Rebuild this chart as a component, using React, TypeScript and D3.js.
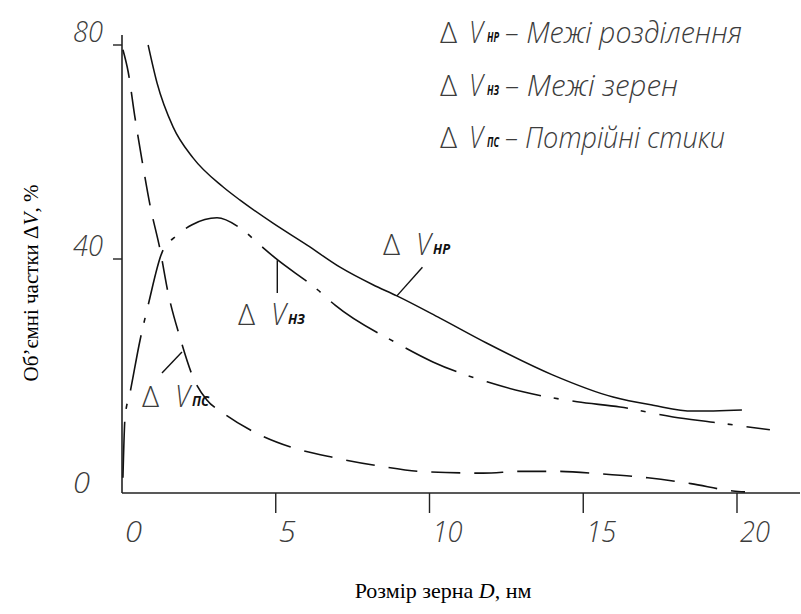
import React from "react";
import * as d3 from "d3";

// grain size D, nm and volume fraction, %
const nrD = [0.85, 1.14, 1.66, 2.31, 3.28, 3.84, 4.91, 6.02, 7.09, 8.16, 8.94, 10.34, 11.87, 14.0, 15.97, 17.27, 18.57, 20.16];
const nrV = [80, 72.9, 64.7, 58.9, 53.5, 51.0, 46.7, 42.6, 38.6, 35.6, 33.7, 29.9, 25.6, 20.2, 16.4, 15.0, 14.0, 14.2];

const nzD = [0.03, 0.1, 0.26, 0.59, 0.85, 1.3, 1.76, 2.28, 3.09, 3.84, 4.49, 4.98, 6.37, 6.93, 8.94, 10.11, 11.87, 13.04, 14.8, 16.2, 17.92, 19.22, 21.07];
const nzV = [2.6, 13, 17.1, 26.2, 32.1, 41.2, 44.3, 46.4, 47.7, 45.8, 42.6, 40.2, 34.7, 32.1, 25.6, 22.4, 19, 17.3, 15.6, 14.7, 13, 12.1, 10.8];

const pcD = [0.03, 0.2, 0.42, 0.65, 0.91, 1.24, 1.5, 1.89, 2.31, 2.76, 3.28, 4.16, 5.46, 6.93, 8.39, 9.69, 11.74, 13.0, 14.18, 15.64, 17.1, 18.5, 19.87, 20.26];
const pcV = [79.1, 75, 66.5, 58.5, 50.1, 41.7, 34.2, 26.5, 19.8, 15.9, 13.7, 10.8, 7.9, 6, 4.6, 3.7, 3.4, 3.7, 3.7, 3.25, 2.6, 1.6, 0.35, 0.2];

const xTicks = [0, 5, 10, 15, 20];
const yTicks = [0, 40, 80];

const seriesSubs = ["нр", "нз", "пс"];
const legendNames = ["Межі розділення", "Межі зерен", "Потрійні стики"];

// curve labels: [D, V] of label, leader from / to
const labelAt = [[8.49, 40.7], [3.77, 28.7], [0.65, 14.7]];
const leaders = [
  [[8.94, 33.7], [9.77, 38.6]],
  [[5.05, 39.8], [5.05, 34.2]],
  [[1.3, 20.5], [1.95, 24.1]],
];

const gost = {
  fontFamily: "'Open Sans', 'DejaVu Sans', sans-serif",
  fontStyle: "italic",
  fontWeight: 300,
  fill: "#3c3c3c",
} as const;

const serif = { fontFamily: "'Liberation Serif', 'Times New Roman', serif", fill: "#000" };

export default function App() {
  const x = d3.scaleLinear().domain([0, 20]).range([122, 737]);
  // hand drawn axis: spacing is not even
  const y = d3.scaleLinear().domain([0, 40, 80]).range([493, 259, 45]);

  const line = d3
    .line<[number, number]>()
    .x((d) => x(d[0]))
    .y((d) => y(d[1]))
    .curve(d3.curveMonotoneX);

  const series = [
    { pts: nrD.map((d, i) => [d, nrV[i]] as [number, number]), dash: "none", w: 1.5 },
    { pts: nzD.map((d, i) => [d, nzV[i]] as [number, number]), dash: "56 13 5 14", w: 1.6 },
    { pts: pcD.map((d, i) => [d, pcV[i]] as [number, number]), dash: "29 14", w: 1.6 },
  ];

  return (
    <svg width={801} height={614} style={{ position: "absolute", left: 0, top: 0, background: "#fff" }}>
      {/* axes */}
      <line x1={x(0)} x2={800} y1={y(0)} y2={y(0)} stroke="#222" strokeWidth={1.6} />
      <line x1={x(0)} x2={x(0)} y1={35} y2={y(0)} stroke="#222" strokeWidth={1.6} />
      {xTicks.filter((t) => t > 0).map((t) => (
        <line key={"xt" + t} x1={x(t)} x2={x(t)} y1={y(0)} y2={y(0) + 20} stroke="#222" strokeWidth={1.4} />
      ))}
      {yTicks.filter((t) => t > 0).map((t) => (
        <line key={"yt" + t} x1={x(0) - 9} x2={x(0)} y1={y(t)} y2={y(t)} stroke="#222" strokeWidth={1.4} />
      ))}
      {xTicks.map((t) => (
        <text key={"xl" + t} x={x(t) + 3} y={y(0) + 49} fontSize={30} style={gost}
          textLength={String(t).length * 13 + 4} lengthAdjust="spacingAndGlyphs">
          {t}
        </text>
      ))}
      {yTicks.map((t) => (
        <text key={"yl" + t} x={x(0) - 49} y={y(t) - (t === 0 ? 0 : 3)} fontSize={30} style={gost}
          textLength={String(t).length * 13 + 4} lengthAdjust="spacingAndGlyphs">
          {t}
        </text>
      ))}

      {/* curves */}
      {series.map((s, i) => (
        <path key={"s" + i} d={line(s.pts) || ""} fill="none" stroke="#111" strokeWidth={s.w}
          strokeDasharray={s.dash} />
      ))}

      {/* leaders and curve labels */}
      {leaders.map((l, i) => (
        <line key={"ld" + i} x1={x(l[0][0])} y1={y(l[0][1])} x2={x(l[1][0])} y2={y(l[1][1])}
          stroke="#111" strokeWidth={1.4} />
      ))}
      {labelAt.map((p, i) => (
        <g key={"lb" + i} transform={`translate(${x(p[0])},${y(p[1])})`}>
          <text x={0} y={0} fontSize={30} style={{ ...gost, fontStyle: "normal" }}>Δ</text>
          <text x={33} y={0} fontSize={32} style={gost} textLength={15} lengthAdjust="spacingAndGlyphs">V</text>
          <text x={50} y={-1} fontSize={15} style={{ ...gost, fontWeight: 700, fill: "#111" }}
            textLength={17} lengthAdjust="spacingAndGlyphs">{seriesSubs[i].toUpperCase()}</text>
        </g>
      ))}

      {/* legend */}
      {legendNames.map((name, i) => (
        <g key={"lg" + i} transform={`translate(440,${43 + i * 52.5})`}>
          <text x={0} y={0} fontSize={30} style={{ ...gost, fontStyle: "normal" }}>Δ</text>
          <text x={29} y={0} fontSize={32} style={gost} textLength={14} lengthAdjust="spacingAndGlyphs">V</text>
          <text x={47} y={-1} fontSize={15} style={{ ...gost, fontWeight: 700, fill: "#111" }}
            textLength={12} lengthAdjust="spacingAndGlyphs">{seriesSubs[i].toUpperCase()}</text>
          <text x={i === 0 ? 65 : 65} y={0} fontSize={30} style={gost}
            textLength={[237, 173, 220][i]} lengthAdjust="spacingAndGlyphs">
            {"– " + name}
          </text>
        </g>
      ))}

      {/* axis titles */}
      <text x={443} y={598} textAnchor="middle" fontSize={22} style={serif}>
        Розмір зерна <tspan fontStyle="italic">D</tspan>, нм
      </text>
      <text transform="translate(38,283) rotate(-90)" textAnchor="middle" fontSize={21} style={serif}>
        Об’ємні частки Δ<tspan fontStyle="italic">V</tspan>, %
      </text>
    </svg>
  );
}
